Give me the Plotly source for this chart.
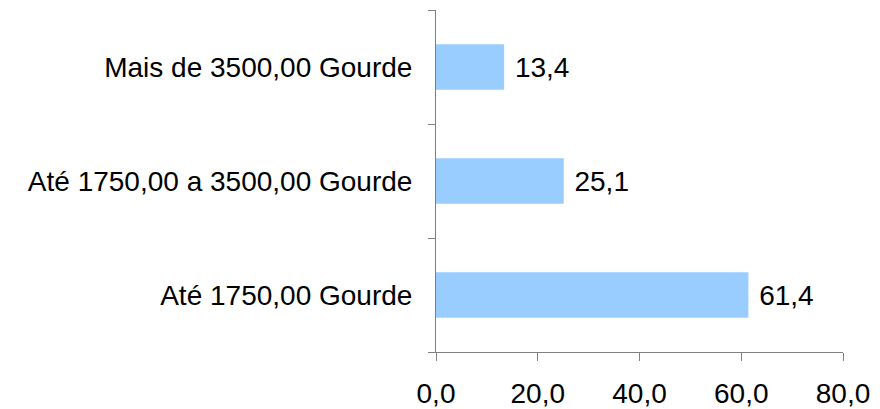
import plotly.graph_objects as go

categories = ["Até 1750,00 Gourde", "Até 1750,00 a 3500,00 Gourde", "Mais de 3500,00 Gourde"]
values = [61.4, 25.1, 13.4]
x_ticks = [0, 20, 40, 60, 80]
x_tick_labels = ["0,0", "20,0", "40,0", "60,0", "80,0"]
value_labels = [f"{v:.1f}".replace(".", ",") for v in values]

FONT = "Liberation Sans, Arial"

fig = go.Figure(go.Bar(
    y=categories, x=values, orientation="h",
    marker=dict(color="#99CCFF", line=dict(width=0)),
    width=0.4,
    text=[" " + t for t in value_labels], textposition="outside",
    textfont=dict(size=28, color="black", family=FONT),
    cliponaxis=False,
    hoverinfo="skip",
))

fig.update_layout(
    width=880, height=409,
    margin=dict(l=436, r=37, t=10, b=57, autoexpand=False),
    paper_bgcolor="white", plot_bgcolor="white",
    font=dict(family=FONT, size=28, color="black"),
    showlegend=False,
    xaxis=dict(range=[0, 80], tickvals=x_ticks, ticktext=x_tick_labels,
               showgrid=False, zeroline=False, showline=True, linecolor="#808080",
               linewidth=1, ticks="outside", ticklen=8, tickcolor="#808080",
               automargin=False, ticklabelstandoff=8),
    yaxis=dict(type="category", tickson="boundaries", showgrid=False, zeroline=False,
               showline=True, linecolor="#808080", linewidth=1, ticks="outside",
               ticklen=7, tickcolor="#808080", range=[-0.5, 2.5],
               automargin=False, ticklabelstandoff=17),
)

fig.write_html("out.html", config={"displayModeBar": False, "staticPlot": True})
with open("out.html", "r", encoding="utf-8") as f:
    html = f.read()
html = html.replace("<body>", '<body style="margin:0;padding:0;overflow:hidden">', 1)
with open("out.html", "w", encoding="utf-8") as f:
    f.write(html)
